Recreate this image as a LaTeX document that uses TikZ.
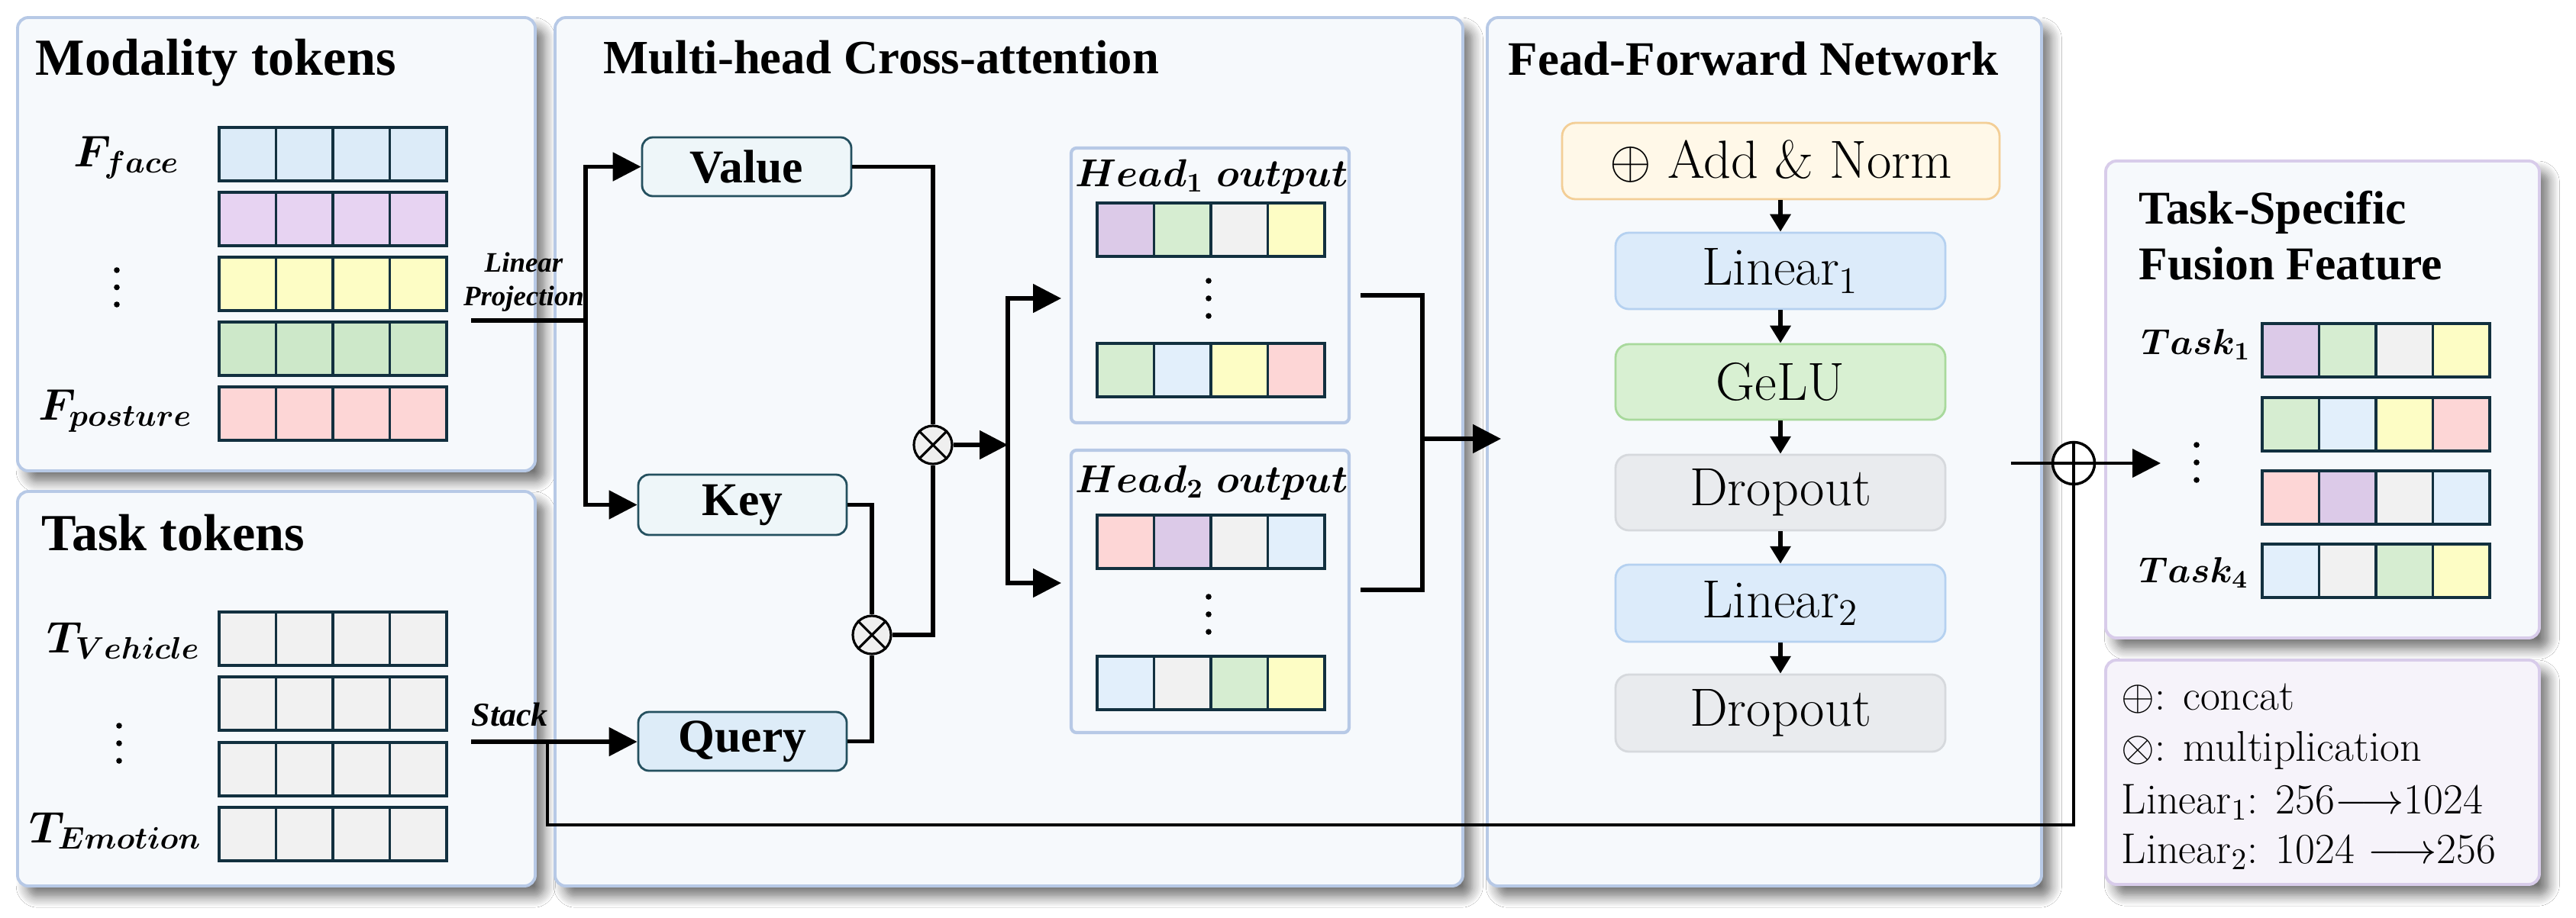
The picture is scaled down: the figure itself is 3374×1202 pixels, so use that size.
\RequirePackage{fix-cm}
\documentclass[tikz,border=0pt]{standalone}
\usepackage{fontspec}
\usepackage{bm}
\newfontfamily\tnr{Liberation Serif}
\usetikzlibrary{arrows.meta,shadows.blur,calc}
\definecolor{pb}{HTML}{B7C9E6}
\definecolor{pf}{HTML}{F6F9FC}
\definecolor{tsb}{HTML}{D8CCEA}
\definecolor{lgf}{HTML}{F6F3FA}
\definecolor{vkf}{HTML}{EEF6F9}
\definecolor{vkb}{HTML}{24505F}
\definecolor{qf}{HTML}{DDECF8}
\definecolor{anf}{HTML}{FFF8E8}
\definecolor{anb}{HTML}{F3CE96}
\definecolor{lnf}{HTML}{DCEBFA}
\definecolor{lnb}{HTML}{B5D1F0}
\definecolor{gef}{HTML}{D8F0D2}
\definecolor{geb}{HTML}{A8D99C}
\definecolor{drf}{HTML}{E9EBEE}
\definecolor{drb}{HTML}{D6D9DD}
\definecolor{tokb}{HTML}{12303F}
\definecolor{cblue}{HTML}{DCEBF8}
\definecolor{hblue}{HTML}{E2EFFB}
\definecolor{cpurp}{HTML}{E7D3F2}
\definecolor{hpurp}{HTML}{DCCAE8}
\definecolor{cyel}{HTML}{FDFDC5}
\definecolor{cgreen}{HTML}{CDE8C9}
\definecolor{hgreen}{HTML}{D6EDD1}
\definecolor{cpink}{HTML}{FDD6D6}
\definecolor{cgrey}{HTML}{F1F1F1}
\definecolor{mulf}{HTML}{EFEFEF}
\newcommand{\bx}[7]{\node[#6, minimum width={(#4-#2)*0.01cm}, minimum height={(#5-#3)*0.01cm}] (#1) at ({(#2+#4)/2},{(#3+#5)/2}) {#7};}
\newcommand{\tokrow}[4]{%
  \foreach \cc [count=\ii] in {#4} {\path[fill=\cc] ({#2-149+(\ii-1)*74.5},{#3-35}) rectangle ++(74.5,70);}
  \foreach \kk in {1,2,3} {\draw[tokline] ({#2-149+\kk*74.5},{#3-35}) -- ++(0,70);}
  \node[tokrowbox] (#1) at (#2,#3) {};}
\newcommand{\vdts}[3]{\fill (#1,#2) circle (3.8) (#1,{(#2+#3)/2}) circle (3.8) (#1,#3) circle (3.8);}
\begin{document}
\begin{tikzpicture}[x=0.01cm,y=-0.01cm,
  panel/.style={draw=pb, line width=1.1pt, fill=pf, rounded corners=4pt, inner sep=0,
    blur shadow={shadow xshift=3.5pt, shadow yshift=-4pt, shadow blur radius=4pt, shadow blur steps=8, shadow opacity=55}},
  tspanel/.style={panel, draw=tsb},
  legpanel/.style={panel, draw=tsb, fill=lgf},
  headbox/.style={draw=pb, line width=1.2pt, fill=pf, rounded corners=2pt, inner sep=0},
  vk/.style={draw=vkb, line width=0.8pt, fill=vkf, rounded corners=4pt, inner sep=0,
    font=\tnr\bfseries\fontsize{17.5}{20}\selectfont},
  qk/.style={vk, fill=qf},
  ffbox/.style={line width=0.8pt, rounded corners=5pt, inner sep=0, font=\fontsize{20}{24}\selectfont},
  tokline/.style={draw=tokb, line width=0.9pt},
  tokrowbox/.style={draw=tokb, line width=1pt, minimum width=2.98cm, minimum height=0.70cm, inner sep=0},
  ttl/.style={anchor=base west, inner sep=0, font=\tnr\bfseries\fontsize{19.4}{23}\selectfont},
  mlab/.style={anchor=base west, inner sep=0, font=\fontsize{16.5}{20}\selectfont},
  conn/.style={line width=1.5pt, draw=black},
  thin/.style={line width=1.2pt, draw=black},
  arr/.style={-{Triangle[length=10.5pt,width=10.5pt]}},
  sarr/.style={line width=1.5pt, -{Triangle[length=6.5pt,width=7.5pt]}},
  mulc/.style={circle, draw, fill=mulf, line width=0.9pt, minimum size=0.5cm, inner sep=0},
  addc/.style={circle, draw, fill=white, line width=1pt, minimum size=0.55cm, inner sep=0},
  leg/.style={anchor=base west, inner sep=0, font=\fontsize{16}{19}\selectfont}
]
\fill[white] (0,0) rectangle (3374,1202);
\useasboundingbox (0,0) rectangle (3374,1202);

% panels
\bx{modp}{23}{23}{701}{617}{panel}{}
\bx{taskp}{23}{644}{701}{1161}{panel}{}
\bx{mhp}{727}{23}{1916}{1161}{panel}{}
\bx{ffnp}{1948}{23}{2674}{1161}{panel}{}
\bx{tsp}{2758}{211}{3326}{836}{tspanel}{}
\bx{legp}{2758}{865}{3326}{1159}{legpanel}{}

% titles
\node[ttl] (tmod) at (46,98) {Modality tokens};
\node[ttl] (ttask) at (54,721) {Task tokens};
\node[ttl, font=\tnr\bfseries\fontsize{17.8}{21}\selectfont] (tmh) at (790,96) {Multi-head Cross-attention};
\node[ttl, font=\tnr\bfseries\fontsize{17.9}{21}\selectfont] (tffn) at (1975,98) {Fead-Forward Network};
\node[ttl, font=\tnr\bfseries\fontsize{17.5}{21}\selectfont] (tts1) at (2801,293) {Task-Specific};
\node[ttl, font=\tnr\bfseries\fontsize{17.5}{21}\selectfont] (tts2) at (2801,366) {Fusion Feature};

% modality tokens
\tokrow{mr1}{436}{202}{cblue,cblue,cblue,cblue}
\tokrow{mr2}{436}{287}{cpurp,cpurp,cpurp,cpurp}
\tokrow{mr3}{436}{372}{cyel,cyel,cyel,cyel}
\tokrow{mr4}{436}{457}{cgreen,cgreen,cgreen,cgreen}
\tokrow{mr5}{436}{542}{cpink,cpink,cpink,cpink}
\node[mlab] (lface) at (96,218) {$\bm{F}_{\bm{face}}$};
\node[mlab] (lpost) at (50,550) {$\bm{F}_{\bm{posture}}$};
\vdts{153}{354}{399}

% task tokens
\tokrow{tr1}{436}{837}{cgrey,cgrey,cgrey,cgrey}
\tokrow{tr2}{436}{922}{cgrey,cgrey,cgrey,cgrey}
\tokrow{tr3}{436}{1008}{cgrey,cgrey,cgrey,cgrey}
\tokrow{tr4}{436}{1093}{cgrey,cgrey,cgrey,cgrey}
\node[mlab] (lveh) at (61,855) {$\bm{T}_{\bm{Vehicle}}$};
\node[mlab] (lemo) at (38,1104) {$\bm{T}_{\bm{Emotion}}$};
\vdts{156}{951}{997}

% labels on inputs
\node[inner sep=0, align=center, font=\tnr\bfseries\itshape\fontsize{10.5}{12.5}\selectfont] (llp) at (686,370) {Linear\\Projection};
\node[anchor=base west, inner sep=0, font=\tnr\bfseries\itshape\fontsize{12.5}{15}\selectfont] (lstk) at (617,951) {Stack};

% Q K V
\bx{val}{841}{180}{1115}{257}{vk}{Value}
\bx{key}{836}{622}{1109}{701}{vk}{Key}
\bx{qry}{836}{933}{1109}{1010}{qk}{Query}
\node[mulc] (m1) at (1222,583) {};
\node[mulc] (m2) at (1142,832) {};
\draw[line width=0.9pt] (m1.north west) -- (m1.south east) (m1.north east) -- (m1.south west);
\draw[line width=0.9pt] (m2.north west) -- (m2.south east) (m2.north east) -- (m2.south west);

% heads
\bx{h1}{1403}{194}{1767}{554}{headbox}{}
\bx{h2}{1403}{590}{1767}{960}{headbox}{}
\node[anchor=base, inner sep=0, font=\fontsize{14.5}{17}\selectfont] (th1) at (1587,244) {$\bm{Head}_{\bm{1}}\ \bm{output}$};
\node[anchor=base, inner sep=0, font=\fontsize{14.5}{17}\selectfont] (th2) at (1587,645) {$\bm{Head}_{\bm{2}}\ \bm{output}$};
\tokrow{h1r1}{1586}{301}{hpurp,hgreen,cgrey,cyel}
\tokrow{h1r2}{1586}{485}{hgreen,hblue,cyel,cpink}
\tokrow{h2r1}{1586}{710}{cpink,hpurp,cgrey,hblue}
\tokrow{h2r2}{1586}{895}{hblue,cgrey,hgreen,cyel}
\vdts{1583}{368}{414}
\vdts{1583}{782}{828}

% FFN
\bx{an}{2046}{161}{2619}{261}{ffbox, draw=anb, fill=anf}{$\oplus$ Add \& Norm}
\bx{l1}{2116}{305}{2548}{405}{ffbox, draw=lnb, fill=lnf}{Linear$_1$}
\bx{ge}{2116}{451}{2548}{550}{ffbox, draw=geb, fill=gef}{GeLU}
\bx{d1}{2116}{596}{2548}{695}{ffbox, draw=drb, fill=drf}{Dropout}
\bx{l2}{2116}{740}{2548}{841}{ffbox, draw=lnb, fill=lnf}{Linear$_2$}
\bx{d2}{2116}{884}{2548}{985}{ffbox, draw=drb, fill=drf}{Dropout}
\draw[sarr] (an.south -| l1.north) -- (l1.north);
\draw[sarr] (l1.south) -- (ge.north);
\draw[sarr] (ge.south) -- (d1.north);
\draw[sarr] (d1.south) -- (l2.north);
\draw[sarr] (l2.south) -- (d2.north);

% task-specific fusion feature
\tokrow{fr1}{3112}{459}{hpurp,hgreen,cgrey,cyel}
\tokrow{fr2}{3112}{556}{hgreen,hblue,cyel,cpink}
\tokrow{fr3}{3112}{652}{cpink,hpurp,cgrey,hblue}
\tokrow{fr4}{3112}{748}{hblue,cgrey,hgreen,cyel}
\node[mlab, font=\fontsize{13.5}{16}\selectfont] (lt1) at (2804,464) {$\bm{Task}_{\bm{1}}$};
\node[mlab, font=\fontsize{13.5}{16}\selectfont] (lt4) at (2801,763) {$\bm{Task}_{\bm{4}}$};
\vdts{2877}{583}{629}

% legend
\node[leg] (lg1) at (2778,930) {$\oplus$: concat};
\node[leg] (lg2) at (2778,997) {$\otimes$: multiplication};
\node[leg] (lg3) at (2778,1066) {Linear$_1$: 256$\longrightarrow$1024};
\node[leg] (lg4) at (2778,1131) {Linear$_2$: 1024 $\longrightarrow$256};

% concat circle
\node[addc] (pl) at (2716,607) {};
\draw[line width=1pt] (pl.north) -- (pl.south) (pl.west) -- (pl.east);

% coordinates
\coordinate (lp) at (617,420);
\coordinate (lpj) at (767,420);
\coordinate (st) at (617,972);
\coordinate (stj) at (717,972);
\coordinate (sb) at (717,1081);
\coordinate (sp) at (1320,583);
\coordinate (h1in) at (1390,391);
\coordinate (h2in) at (1390,764);
\coordinate (o1) at (1782,387);
\coordinate (o2) at (1782,773);
\coordinate (om) at (1863,575);
\coordinate (ffin) at (1966,575);
\coordinate (fo) at (2634,607);
\coordinate (tin) at (2830,607);

% connectors
\draw[conn] (lp) -- (lpj);
\draw[conn,arr] (lpj) |- (val.west);
\draw[conn,arr] (lpj) |- (key.west);
\draw[conn,arr] (st) -- (st -| qry.west);
\draw[conn] (key.east) -| (m2.north);
\draw[conn] (qry.east) -| (m2.south);
\draw[conn] (val.east) -| (m1.north);
\draw[conn] (m2.east) -| (m1.south);
\draw[conn,arr] (m1.east) -- (sp);
\draw[conn,arr] (sp) |- (h1in);
\draw[conn,arr] (sp) |- (h2in);
\draw[conn] (o1) -| (om) |- (o2);
\draw[conn,arr] (om) -- (ffin);
\draw[thin] (fo) -- (pl.west);
\draw[thin,arr] (pl.east) -- (tin);
\draw[thin] (stj) -- (sb) -| (pl.south);
\end{tikzpicture}
\end{document}
